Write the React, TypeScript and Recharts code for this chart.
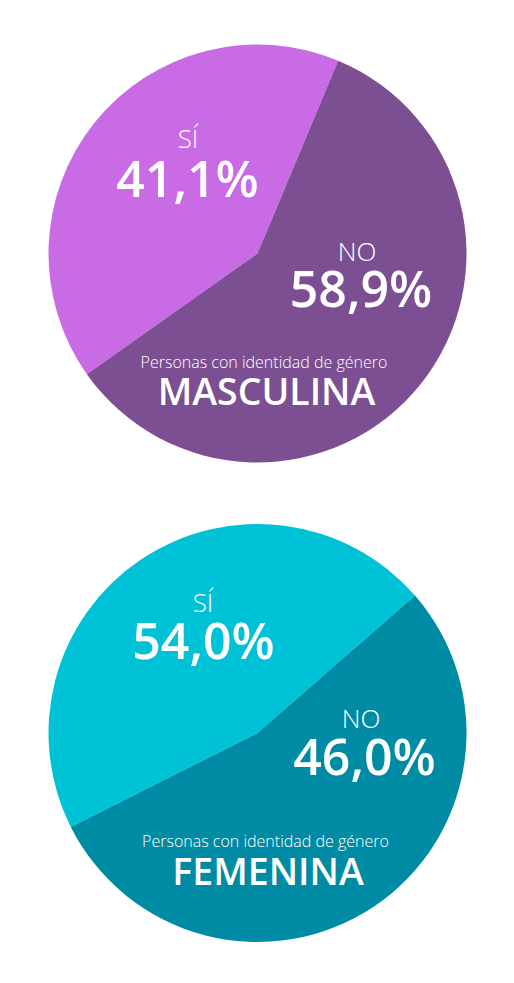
import { PieChart, Pie, Cell } from "recharts";

// top pie: masculina
const masculinaNames = ["SÍ", "NO"];
const masculinaValues = [41.1, 58.9];
const masculinaLabels = ["41,1%", "58,9%"];

// bottom pie: femenina. slice shares as drawn in the original (cyan area ~46%, teal ~54%)
const femeninaNames = ["SÍ", "NO"];
const femeninaValues = [46.0, 54.0];
const femeninaLabels = ["54,0%", "46,0%"];

const masculinaColors = ["#c86be4", "#7b4f91"];
const femeninaColors = ["#00c2d6", "#008ba4"];

const FONT = "'Open Sans', sans-serif";

export default function App() {
  const top = masculinaNames.map((name, i) => ({ name, value: masculinaValues[i] }));
  const bottom = femeninaNames.map((name, i) => ({ name, value: femeninaValues[i] }));

  return (
    <div style={{ position: "absolute", left: 0, top: 0, width: 514, height: 983, background: "#fff" }}>
      <PieChart width={514} height={983} margin={{ top: 0, right: 0, bottom: 0, left: 0 }}>
        <Pie
          data={top}
          dataKey="value"
          cx={257.5}
          cy={253.5}
          outerRadius={209}
          startAngle={67.3}
          endAngle={427.3}
          stroke="none"
          isAnimationActive={false}
        >
          {top.map((d, i) => (
            <Cell key={d.name} fill={masculinaColors[i]} />
          ))}
        </Pie>
        <Pie
          data={bottom}
          dataKey="value"
          cx={257.5}
          cy={733}
          outerRadius={209}
          startAngle={41.1}
          endAngle={401.1}
          stroke="none"
          isAnimationActive={false}
        >
          {bottom.map((d, i) => (
            <Cell key={d.name} fill={femeninaColors[i]} />
          ))}
        </Pie>
      </PieChart>
      <svg width={514} height={983} style={{ position: "absolute", left: 0, top: 0 }} fontFamily={FONT} fill="#fff" textAnchor="middle">
        {/* masculina */}
        <text x={188} y={148} fontSize={26} fontWeight={300}>{masculinaNames[0]}</text>
        <text x={187.5} y={197} fontSize={50} fontWeight={600}>{masculinaLabels[0]}</text>
        <text x={357} y={261} fontSize={26} fontWeight={300}>{masculinaNames[1]}</text>
        <text x={361} y={307} fontSize={50} fontWeight={600}>{masculinaLabels[1]}</text>
        <text x={264} y={368} fontSize={16} fontWeight={300}>Personas con identidad de género</text>
        <text x={266.5} y={405} fontSize={37.5} fontWeight={600}>MASCULINA</text>
        {/* femenina */}
        <text x={203} y={612} fontSize={26} fontWeight={300}>{femeninaNames[0]}</text>
        <text x={203.5} y={659} fontSize={50} fontWeight={600}>{femeninaLabels[0]}</text>
        <text x={361} y={728} fontSize={26} fontWeight={300}>{femeninaNames[1]}</text>
        <text x={364.5} y={775} fontSize={50} fontWeight={600}>{femeninaLabels[1]}</text>
        <text x={265.5} y={847} fontSize={16} fontWeight={300}>Personas con identidad de género</text>
        <text x={268} y={885} fontSize={37.5} fontWeight={600}>FEMENINA</text>
      </svg>
    </div>
  );
}
